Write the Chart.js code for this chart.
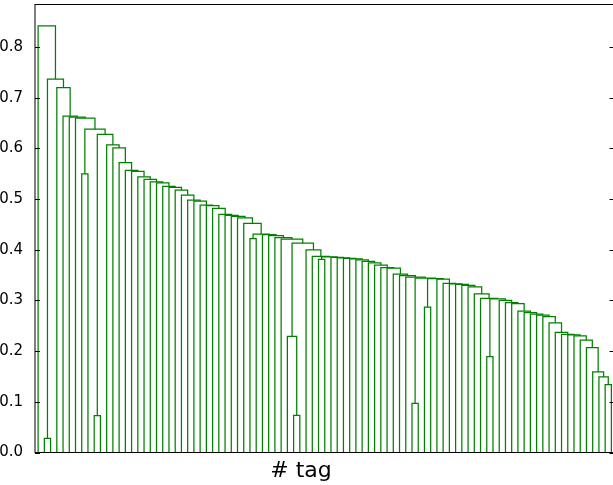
<!DOCTYPE html>
<html lang="en">
<head>
<meta charset="UTF-8">
<title>Dendrogram</title>
<script src="https://cdn.jsdelivr.net/npm/chart.js@4.4.0/dist/chart.umd.min.js"></script>
<style>
    html, body { margin: 0; padding: 0; background: #fff; overflow: hidden; }
    #wrap { position: relative; width: 616px; height: 485px; }
</style>
</head>
<body>
<div id="wrap"><canvas id="dendro"></canvas></div>
<script>
// merge heights along the main chain, read left to right
var chainHeights = [
    0.842, 0.737, 0.720, 0.664, 0.662, 0.660, 0.638, 0.628, 0.607, 0.601,
    0.572, 0.557, 0.555, 0.544, 0.539, 0.534, 0.532, 0.525, 0.523, 0.518,
    0.508, 0.498, 0.496, 0.488, 0.487, 0.482, 0.470, 0.468, 0.466, 0.463,
    0.452, 0.431, 0.430, 0.428, 0.424, 0.421, 0.413, 0.400, 0.387, 0.386,
    0.385, 0.384, 0.383, 0.382, 0.380, 0.377, 0.374, 0.370, 0.365, 0.364,
    0.352, 0.349, 0.346, 0.344, 0.343, 0.342, 0.334, 0.333, 0.332, 0.330,
    0.327, 0.313, 0.304, 0.303, 0.300, 0.296, 0.294, 0.279, 0.276, 0.273,
    0.271, 0.268, 0.256, 0.237, 0.233, 0.232, 0.230, 0.222, 0.207, 0.159,
    0.149
];
// small clusters hanging off the chain: chain index -> their own merge heights
var subClusters = {
    1: [0.028], 6: [0.550], 7: [0.073], 31: [0.422], 36: [0.229, 0.0735],
    39: [0.381], 53: [0.097], 54: [0.287], 63: [0.189]
};
// the last pair at the right end
var tailHeight = 0.134;
var yTicks = [0.0, 0.1, 0.2, 0.3, 0.4, 0.5, 0.6, 0.7, 0.8];
var xLabel = '# tag';

function leaf() { return {h: 0, leaf: true}; }
function sub(hs) {
    if (!hs || !hs.length) return leaf();
    return {h: hs[0], left: leaf(), right: hs.length > 1 ? sub(hs.slice(1)) : leaf()};
}
function chain(i) {
    if (i == chainHeights.length) return {h: tailHeight, left: leaf(), right: leaf()};
    return {h: chainHeights[i], left: sub(subClusters[i]), right: chain(i + 1)};
}

// leaves at 5, 15, 25 ... like scipy does it
var nLeaves = 0;
var links = [];
function place(node) {
    if (node.leaf) { node.x = 5 + 10 * nLeaves++; return; }
    place(node.left);
    place(node.right);
    node.x = (node.left.x + node.right.x) / 2;
    links.push([
        {x: node.left.x, y: node.left.h},
        {x: node.left.x, y: node.h},
        {x: node.right.x, y: node.h},
        {x: node.right.x, y: node.right.h}
    ]);
}
place(chain(0));

var datasets = links.map(function (pts) {
    return {
        data: pts,
        showLine: true,
        borderColor: '#008000',
        borderWidth: 1.25,
        pointRadius: 0,
        fill: false,
        tension: 0
    };
});

// box around the axes, inward ticks on both sides, and the x label
var framePlugin = {
    id: 'frame',
    afterDraw: function (chart) {
        var ctx = chart.ctx;
        var a = chart.chartArea;
        var y = chart.scales.y;
        ctx.save();
        ctx.strokeStyle = '#000';
        ctx.lineWidth = 1;
        ctx.strokeRect(a.left, a.top, a.right - a.left, a.bottom - a.top);
        ctx.beginPath();
        yTicks.forEach(function (v) {
            var py = Math.round(y.getPixelForValue(v)) + 0.5;
            ctx.moveTo(a.left, py); ctx.lineTo(a.left + 5, py);
            ctx.moveTo(a.right, py); ctx.lineTo(a.right - 5, py);
        });
        ctx.stroke();
        ctx.fillStyle = '#000';
        ctx.font = '22px "DejaVu Sans"';
        ctx.textAlign = 'center';
        ctx.textBaseline = 'alphabetic';
        ctx.fillText(xLabel, 301, 477);
        ctx.restore();
    }
};

new Chart(document.getElementById('dendro'), {
    type: 'scatter',
    data: {datasets: datasets},
    options: {
        responsive: true,
        maintainAspectRatio: false,
        animation: false,
        layout: {padding: {top: 4.5, right: 1.5, left: 0, bottom: 0}},
        plugins: {legend: {display: false}, tooltip: {enabled: false}},
        scales: {
            x: {
                type: 'linear',
                min: 0,
                max: nLeaves * 10,
                ticks: {display: false},
                grid: {display: false},
                border: {display: false},
                afterFit: function (s) {
                    s.height = 32.5;
                    s.paddingLeft = 0; s.paddingRight = 0;
                }
            },
            y: {
                min: 0,
                max: Math.max.apply(null, chainHeights) * 1.05,
                afterBuildTicks: function (s) {
                    s.ticks = yTicks.map(function (v) { return {value: v}; });
                },
                ticks: {
                    color: '#000',
                    padding: 4,
                    font: {family: 'DejaVu Sans', size: 15},
                    callback: function (v) { return v.toFixed(1); }
                },
                grid: {display: false},
                border: {display: false},
                afterFit: function (s) {
                    s.width = 35;
                    s.paddingTop = 0; s.paddingBottom = 0;
                }
            }
        }
    },
    plugins: [framePlugin]
});
</script>
</body>
</html>
